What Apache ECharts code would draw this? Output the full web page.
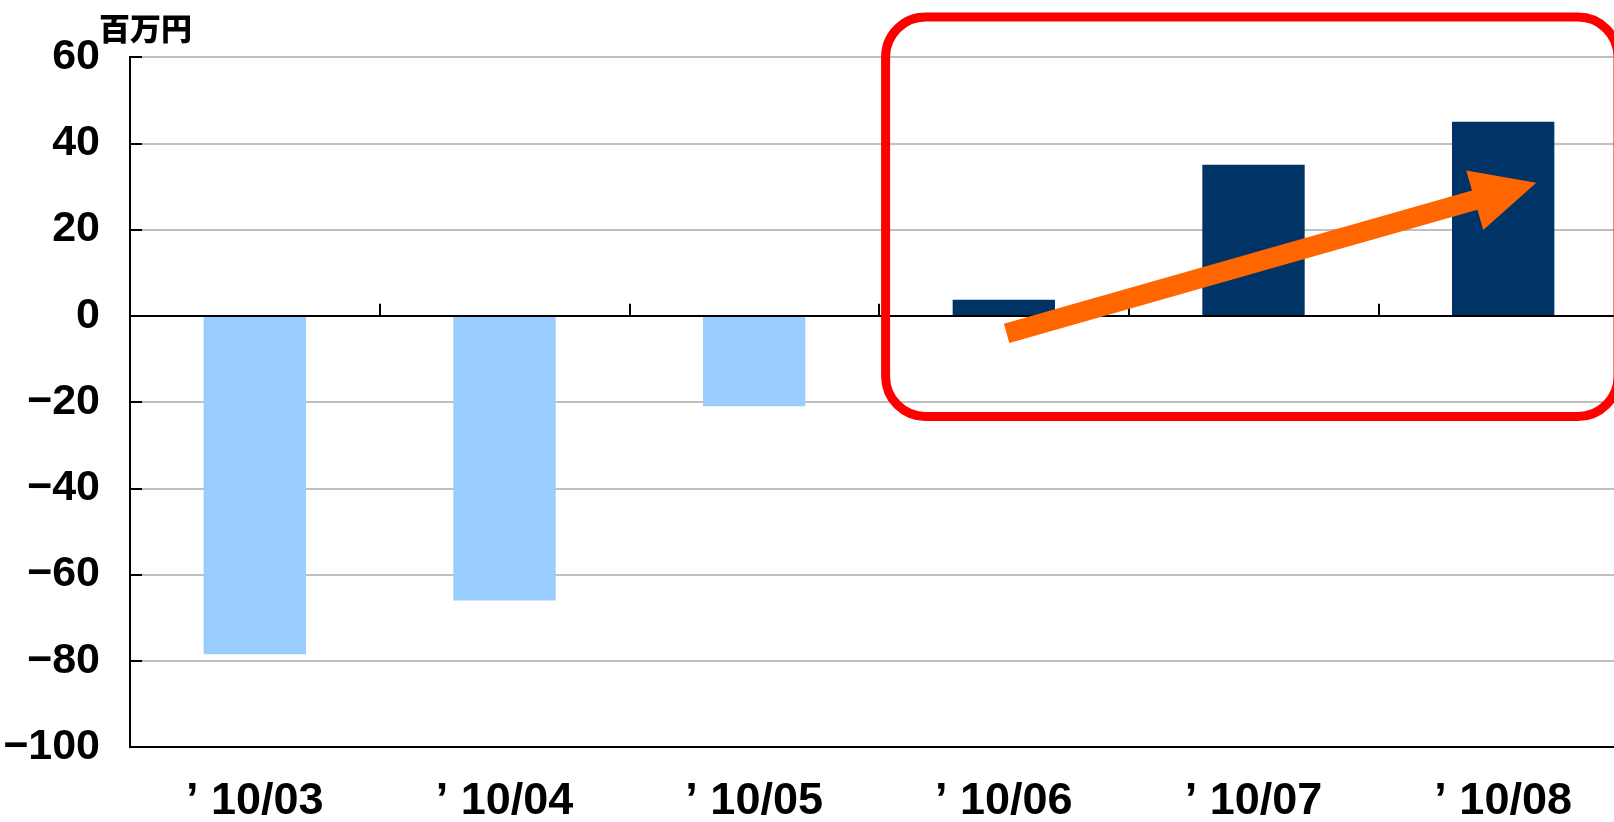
<!DOCTYPE html>
<html>
<head>
<meta charset="utf-8">
<script src="https://cdn.jsdelivr.net/npm/echarts@6/dist/echarts.min.js"></script>
<style>html,body{margin:0;padding:0;background:#fff;}#chart{width:1614px;height:822px;}</style>
</head>
<body>
<div id="chart"></div>
<script>
const categories = ["’ 10/03", "’ 10/04", "’ 10/05", "’ 10/06", "’ 10/07", "’ 10/08"];
const values = [-78.5, -66, -21, 3.7, 35, 45];
const yTicks = { min: -100, max: 60, interval: 20 };
const unitLabel = "百万円";

const NUM_FONT = '"Liberation Sans Narrow", "Liberation Sans", Arial, sans-serif';

const chart = echarts.init(document.getElementById('chart'), null, { renderer: 'canvas' });

// Annotation arrow geometry (pixels)
const tail = [1006.6, 333.3], tip = [1536.3, 182.7];
const headLen = 64, headHalf = 31, shaftHalf = 10;
const dx = tip[0] - tail[0], dy = tip[1] - tail[1], len = Math.hypot(dx, dy);
const u = [dx / len, dy / len], n = [-u[1], u[0]];
const base = [tip[0] - headLen * u[0], tip[1] - headLen * u[1]];
const P = (p, k) => [p[0] + k * n[0], p[1] + k * n[1]];
const arrowPts = [P(tail, shaftHalf), P(tail, -shaftHalf), P(base, -shaftHalf), P(base, -headHalf), tip, P(base, headHalf), P(base, shaftHalf)];

chart.setOption({
  animation: false,
  backgroundColor: '#ffffff',
  grid: { left: 130, top: 57, right: -14, bottom: 75, outerBoundsMode: 'none', containLabel: false,
          show: true, borderColor: '#000', borderWidth: 2, backgroundColor: 'transparent' },
  xAxis: [
    {
      type: 'category', data: categories, position: 'bottom',
      axisLine: { show: true, onZero: false, lineStyle: { color: '#000', width: 2 } },
      axisTick: { show: false },
      axisLabel: { show: true, color: '#000', fontFamily: NUM_FONT, fontWeight: 'bold', fontSize: 45, margin: 32 },
      splitLine: { show: false }
    },
    {
      type: 'category', data: categories, position: 'top', z: 5,
      axisLine: { show: true, onZero: true, lineStyle: { color: '#000', width: 2 } },
      axisTick: { show: true, length: 12, lineStyle: { color: '#000', width: 2 } },
      axisLabel: { show: false },
      splitLine: { show: false }
    }
  ],
  yAxis: {
    type: 'value', min: yTicks.min, max: yTicks.max, interval: yTicks.interval,
    axisLine: { show: true, lineStyle: { color: '#000', width: 2 } },
    axisTick: { show: true, inside: true, length: 12, lineStyle: { color: '#000', width: 2 } },
    axisLabel: {
      color: '#000', fontFamily: NUM_FONT, fontWeight: 'bold', fontSize: 43, margin: 30,
      formatter: v => (v < 0 ? '\u2212' + Math.abs(v) : String(v))
    },
    splitLine: { show: true, lineStyle: { color: '#C0C0C0', width: 2 } }
  },
  series: [{
    type: 'bar', xAxisIndex: 0, yAxisIndex: 0, data: values, barWidth: '41%',
    itemStyle: { color: p => (p.value < 0 ? '#99CCFF' : '#003366') }
  }],
  graphic: [
    { type: 'text', left: 99, top: 13, z: 10,
      style: { text: unitLabel, fill: '#000', fontSize: 31, fontWeight: 900, fontFamily: '"Noto Sans CJK JP", sans-serif' } },
    { type: 'rect', z: 20, shape: { x: 885.6, y: 17, width: 732.4, height: 399.5, r: 40 },
      style: { fill: 'none', stroke: '#FF0000', lineWidth: 9 } },
    { type: 'polygon', z: 21, shape: { points: arrowPts }, style: { fill: '#FF6600' } }
  ]
});
</script>
</body>
</html>
